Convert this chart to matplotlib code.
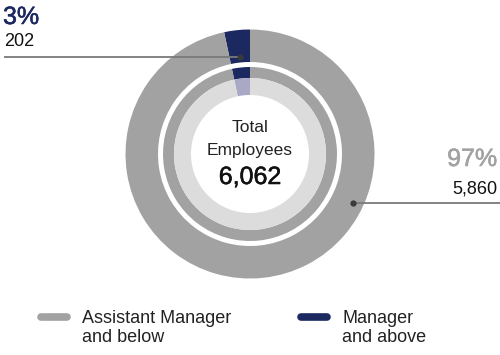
import matplotlib
matplotlib.use("Agg")
import matplotlib.pyplot as plt
import matplotlib.patheffects as pe
import numpy as np

plt.rcParams['font.family'] = ['Liberation Sans', 'DejaVu Sans']

# data
categories = ["Manager\nand above", "Assistant Manager\nand below"]
counts = [202, 5860]
total = sum(counts)
pct_labels = ["%d%%" % round(c / total * 100) for c in counts]

navy = "#1c2860"
grey = "#a2a2a2"
light_grey = "#dcdcdc"
light_navy = "#a9a9c6"

W, H = 500, 355
fig = plt.figure(figsize=(W / 100, H / 100), dpi=100)
ax = fig.add_axes([0, 0, 1, 1])
ax.set_xlim(0, W)
ax.set_ylim(0, H)
ax.set_aspect("equal")
ax.axis("off")

cx, cy = 250, H - 154
R = 124.5

def ring(radius, width, colors):
    ax.pie(counts, colors=colors, startangle=90, counterclock=True,
           radius=radius, center=(cx, cy), frame=True,
           wedgeprops=dict(width=width, linewidth=0))

ring(R, R - 92, [navy, grey])
ring(87, 11, [navy, grey])
ring(76, 17, [light_navy, light_grey])
ax.set_xlim(0, W)
ax.set_ylim(0, H)
ax.axis("off")

def medium(col, w=0.35):
    return [pe.withStroke(linewidth=w, foreground=col)]

# centre text
ax.text(cx, H - 128, "Total", ha="center", va="center", fontsize=12.5, color="#222222")
ax.text(cx, H - 151, "Employees", ha="center", va="center", fontsize=12.5, color="#222222")
ax.text(cx, H - 177, "{:,}".format(total), ha="center", va="center", fontsize=18,
        color="#111111", path_effects=medium("#111111", 0.4))

# callouts
ang_m = np.deg2rad(90 + 360 * counts[0] / total / 2)
px, py = cx + 98 * np.cos(ang_m), cy + 98 * np.sin(ang_m)
ax.plot([4, px], [py, py], color="#7a7a7a", lw=1.3, solid_capstyle="butt")
ax.plot(px, py, "o", ms=3.5, color="#3a3a3a")
ax.text(3, H - 17, pct_labels[0], ha="left", va="center", fontsize=18, color=navy,
        path_effects=medium(navy, 0.4))
ax.text(4, H - 42, "{:,}".format(counts[0]), ha="left", va="center", fontsize=13,
        color="#111111")

ax.plot([353, 500], [H - 203, H - 203], color="#7a7a7a", lw=1.3)
ax.plot(353, H - 203, "o", ms=3.5, color="#3a3a3a")
ax.text(497, H - 159, pct_labels[1], ha="right", va="center", fontsize=18, color=grey,
        path_effects=medium(grey, 0.4))
ax.text(497, H - 189, "{:,}".format(counts[1]), ha="right", va="center", fontsize=13,
        color="#111111")

# legend
leg_items = [(categories[1], grey, 38), (categories[0], navy, 298)]
for label, col, lx in leg_items:
    ax.plot([lx + 3, lx + 29], [H - 317, H - 317], color=col, lw=5.5,
            solid_capstyle="round")
    ax.text(lx + 44, H - 328, label, ha="left", va="center", fontsize=13,
            color="#222222", linespacing=1.2)

fig.savefig("out.png", dpi=100)
